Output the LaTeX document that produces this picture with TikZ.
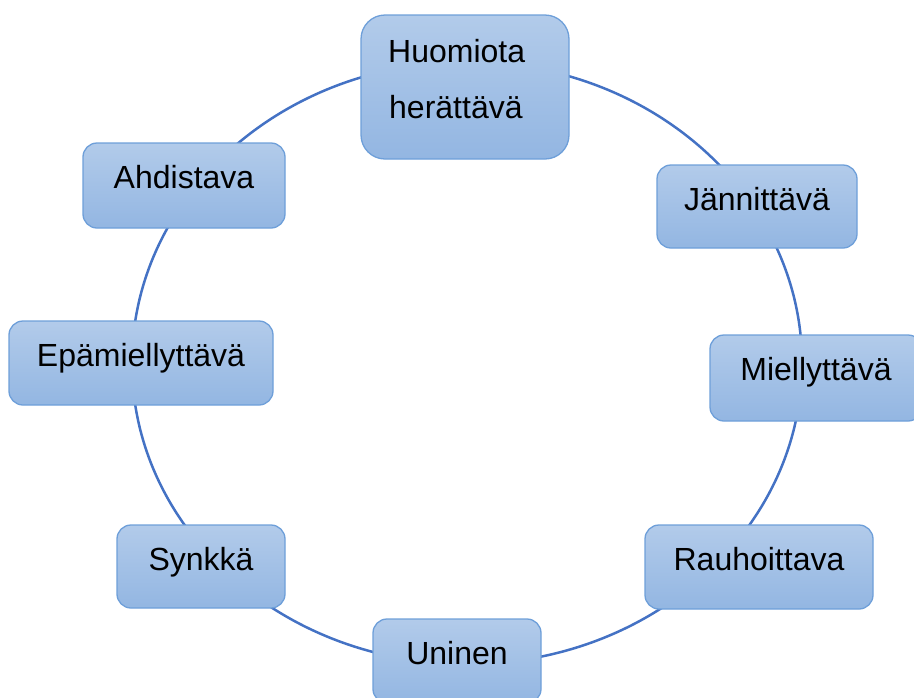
\documentclass[tikz,border=0pt]{standalone}
\usepackage{fontspec}
\setmainfont{Liberation Sans}
\definecolor{ringblue}{HTML}{4472C4}
\definecolor{boxtop}{HTML}{B2CBEA}
\definecolor{boxbot}{HTML}{93B6E2}
\definecolor{boxline}{HTML}{6E9FD9}
\begin{document}
\begin{tikzpicture}[x=1pt,y=-1pt,
  boxbase/.style={draw=boxline, line width=1.3pt, top color=boxtop, bottom color=boxbot,
    rounded corners=14pt, inner xsep=0pt, inner ysep=0pt, text=black,
    font=\fontsize{32}{38}\selectfont, text height=45pt},
  ring/.style={draw=ringblue, line width=2.5pt},
  lbl/.style={font=\fontsize{32}{38}\selectfont, text=black, inner sep=0pt}
]
\useasboundingbox (0,0) rectangle (914,697);
\begin{scope}
\clip (0,0) rectangle (914,697);
% ring behind the boxes
\draw[ring] (467,363) ellipse [x radius=335pt, y radius=301pt];

\node[boxbase, rounded corners=24pt, minimum width=208pt, minimum height=144pt, text height=0pt] (huom) at (465,87) {};
\node[lbl, anchor=base west] (huomA) at (388,62) {Huomiota};
\node[lbl, anchor=base west] (huomB) at (389,118) {herättävä};

\node[boxbase, minimum width=200pt, text depth=38pt] (jann) at (757,206.5) {Jännittävä};
\node[boxbase, minimum width=212pt, text depth=41pt] (miel) at (816,378) {Miellyttävä};
\node[boxbase, minimum width=228pt, text depth=39pt] (rauh) at (759,567) {Rauhoittava};
\node[boxbase, minimum width=168pt, text depth=39pt] (unin) at (457,661) {Uninen};
\node[boxbase, minimum width=168pt, text depth=38pt] (synk) at (201,566.5) {Synkkä};
\node[boxbase, minimum width=264pt, text depth=39pt] (epam) at (141,363) {Epämiellyttävä};
\node[boxbase, minimum width=202pt, text depth=40pt] (ahdi) at (184,185.5) {Ahdistava};
\end{scope}
\end{tikzpicture}
\end{document}
